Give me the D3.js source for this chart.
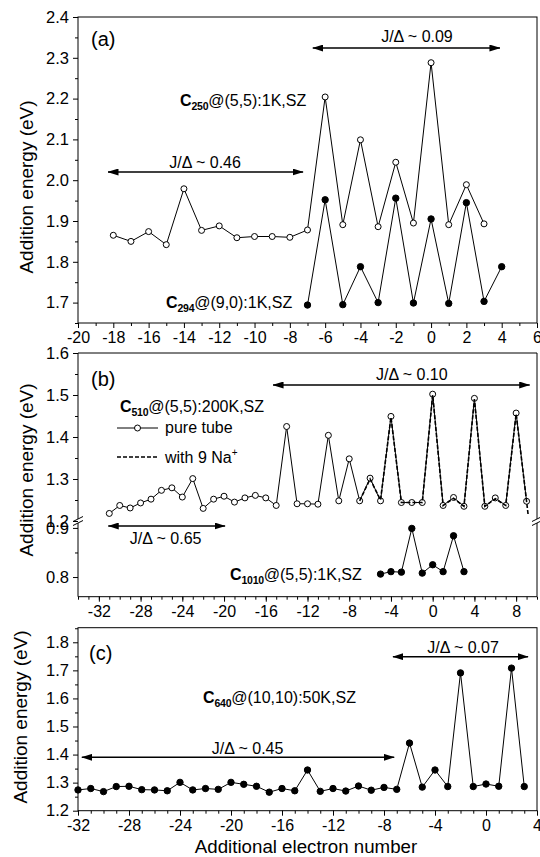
<!DOCTYPE html>
<html>
<head>
<meta charset="utf-8">
<script src="https://cdn.jsdelivr.net/npm/d3@7"></script>
<style>
  body { margin: 0; background: #fff; }
  text { font-family: "Liberation Sans", Arial, Helvetica, sans-serif; fill: #000; }
</style>
</head>
<body>
<script>
// ---- data (electron number, addition energy in eV) ----
// panel (a)
var c250 = [[-18,1.865],[-17,1.850],[-16,1.874],[-15,1.842],[-14,1.979],[-13,1.877],[-12,1.888],
  [-11,1.859],[-10,1.862],[-9,1.862],[-8,1.860],[-7,1.878],[-6,2.204],[-5,1.891],[-4,2.099],
  [-3,1.886],[-2,2.044],[-1,1.895],[0,2.288],[1,1.891],[2,1.989],[3,1.893]];
var c294 = [[-7,1.694],[-6,1.952],[-5,1.695],[-4,1.788],[-3,1.700],[-2,1.956],[-1,1.699],
  [0,1.905],[1,1.698],[2,1.945],[3,1.703],[4,1.788]];

// panel (b)
var c510 = [[-31,1.218],[-30,1.237],[-29,1.231],[-28,1.243],[-27,1.252],[-26,1.273],[-25,1.279],
  [-24,1.257],[-23,1.301],[-22,1.230],[-21,1.252],[-20,1.259],[-19,1.245],[-18,1.255],[-17,1.261],
  [-16,1.255],[-15,1.237],[-14,1.425],[-13,1.241],[-12,1.241],[-11,1.240],[-10,1.404],[-9,1.248],
  [-8,1.348],[-7,1.248],[-6,1.302],[-5,1.248],[-4,1.449],[-3,1.244],[-2,1.244],[-1,1.244],
  [0,1.502],[1,1.237],[2,1.256],[3,1.235],[4,1.492],[5,1.235],[6,1.255],[7,1.237],[8,1.457],[9,1.247]];
var c510Na = [[-7,1.248],[-6,1.300],[-5,1.250],[-4,1.447],[-3,1.244],[-2,1.244],[-1,1.244],
  [0,1.500],[1,1.237],[2,1.254],[3,1.235],[4,1.490],[5,1.235],[6,1.253],[7,1.237],[8,1.455],
  [9,1.247],[9.15,1.215]];
var c1010 = [[-5,0.806],[-4,0.811],[-3,0.810],[-2,0.899],[-1,0.808],[0,0.825],[1,0.811],
  [2,0.884],[3,0.811]];

// panel (c)
var c640 = [[-32,1.274],[-31,1.279],[-30,1.268],[-29,1.286],[-28,1.287],[-27,1.275],[-26,1.274],
  [-25,1.271],[-24,1.301],[-23,1.274],[-22,1.279],[-21,1.276],[-20,1.301],[-19,1.294],[-18,1.287],
  [-17,1.266],[-16,1.279],[-15,1.271],[-14,1.345],[-13,1.269],[-12,1.279],[-11,1.270],[-10,1.288],
  [-9,1.273],[-8,1.283],[-7,1.276],[-6,1.441],[-5,1.284],[-4,1.345],[-3,1.286],[-2,1.691],
  [-1,1.286],[0,1.295],[1,1.287],[2,1.708],[3,1.286]];

// tick labels
var aXTicks = [-20,-18,-16,-14,-12,-10,-8,-6,-4,-2,0,2,4,6];
var aYTicks = [1.7,1.8,1.9,2.0,2.1,2.2,2.3,2.4];
var bXTicks = [-32,-28,-24,-20,-16,-12,-8,-4,0,4,8];
var bYTicksUp = [1.2,1.3,1.4,1.5,1.6];
var bYTicksLow = [0.8,0.9];
var cXTicks = [-32,-28,-24,-20,-16,-12,-8,-4,0,4];
var cYTicks = [1.2,1.3,1.4,1.5,1.6,1.7,1.8];

var left = 78, right = 537;
var fmt1 = d3.format(".1f");

var svg = d3.select("body").append("svg")
    .attr("width", 540)
    .attr("height", 857);

// arrow head
svg.append("defs").append("marker")
    .attr("id", "head")
    .attr("markerUnits", "userSpaceOnUse")
    .attr("markerWidth", 11).attr("markerHeight", 7)
    .attr("refX", 10.5).attr("refY", 3.5)
    .attr("orient", "auto-start-reverse")
  .append("path")
    .attr("d", "M0,0L11,3.5L0,7Z")
    .attr("fill", "#000");

function styleAxis(g, size) {
  g.selectAll("text").attr("font-size", size)
    .attr("font-family", "'Liberation Sans', Arial, sans-serif");
  g.selectAll("line").attr("stroke", "#000");
  g.select(".domain").remove();
}

function xAxis(x, bottom, major, minor) {
  svg.append("g").attr("transform", "translate(0," + bottom + ")")
      .call(d3.axisBottom(x).tickValues(minor).tickSize(3).tickFormat(""))
      .call(styleAxis, 16);
  svg.append("g").attr("transform", "translate(0," + bottom + ")")
      .call(d3.axisBottom(x).tickValues(major).tickSize(5).tickPadding(4).tickFormat(String))
      .call(styleAxis, 16);
}

function yAxis(y, major, minor) {
  svg.append("g").attr("transform", "translate(" + left + ",0)")
      .call(d3.axisLeft(y).tickValues(minor).tickSize(3).tickFormat(""))
      .call(styleAxis, 16);
  svg.append("g").attr("transform", "translate(" + left + ",0)")
      .call(d3.axisLeft(y).tickValues(major).tickSize(5).tickPadding(4).tickFormat(fmt1))
      .call(styleAxis, 16.5);
}

function frame(top, bottom) {
  svg.append("rect")
      .attr("x", left).attr("y", top)
      .attr("width", right - left).attr("height", bottom - top)
      .attr("fill", "none").attr("stroke", "#000");
}

function series(x, y, data, filled, dash) {
  var line = d3.line().x(function(d) { return x(d[0]); }).y(function(d) { return y(d[1]); });
  svg.append("path").datum(data)
      .attr("d", line)
      .attr("fill", "none")
      .attr("stroke", "#000")
      .attr("stroke-width", dash ? 1.6 : 1)
      .attr("stroke-dasharray", dash ? "4,2" : null);
  if (filled === null) return;
  svg.append("g").selectAll("circle")
      .data(data)
    .enter().append("circle")
      .attr("cx", function(d) { return x(d[0]); })
      .attr("cy", function(d) { return y(d[1]); })
      .attr("r", filled ? 3.2 : 3)
      .attr("fill", filled ? "#000" : "#fff")
      .attr("stroke", "#000")
      .attr("stroke-width", 1);
}

function arrow(x1, x2, yp) {
  svg.append("line")
      .attr("x1", x1).attr("x2", x2).attr("y1", yp).attr("y2", yp)
      .attr("stroke", "#000").attr("stroke-width", 1.5)
      .attr("marker-start", "url(#head)")
      .attr("marker-end", "url(#head)");
}

function label(x, y, s, size, anchor) {
  return svg.append("text").attr("x", x).attr("y", y)
      .attr("font-size", size)
      .attr("text-anchor", anchor || "start")
      .text(s);
}

// "C" + subscript + rest
function tubeLabel(x, y, sub, rest) {
  var t = svg.append("text").attr("x", x).attr("y", y).attr("font-size", 16);
  t.append("tspan").attr("font-weight", "bold").text("C");
  t.append("tspan").attr("font-weight", "bold").attr("font-size", 10.5)
      .attr("dy", 4).attr("letter-spacing", -0.3).text(sub);
  t.append("tspan").attr("dy", -4).text(rest);
}

function yTitle(x, cy) {
  svg.append("text")
      .attr("transform", "translate(" + x + "," + cy + ") rotate(-90)")
      .attr("text-anchor", "middle")
      .attr("font-size", 19)
      .text("Addition energy (eV)");
}

// ================= panel (a) =================
var aTop = 17, aBottom = 323;
var xa = d3.scaleLinear().domain([-20, 6]).range([left, right]);
var ya = d3.scaleLinear().domain([1.65, 2.4]).range([aBottom, aTop]);

frame(aTop, aBottom);
xAxis(xa, aBottom, aXTicks, d3.range(-19, 6, 2));
yAxis(ya, aYTicks, d3.range(1.65, 2.4, 0.1));
series(xa, ya, c250, false);
series(xa, ya, c294, true);

label(91, 46, "(a)", 20);
arrow(xa(-6.7), xa(3.9), 48);
label(xa(-0.8), 42, "J/\u0394 ~ 0.09", 16, "middle");
arrow(xa(-18.3), xa(-7.25), 172);
label(xa(-12.8), 168, "J/\u0394 ~ 0.46", 16, "middle");
tubeLabel(180, 106, "250", "@(5,5):1K,SZ");
tubeLabel(166, 308, "294", "@(9,0):1K,SZ");
yTitle(33, 187);

// ================= panel (b), broken y axis =================
var bTop = 353, bBottom = 596.7, brk1 = 519, brk2 = 523;
var xb = d3.scaleLinear().domain([-34, 10]).range([left, right]);
var ybUp = d3.scaleLinear().domain([1.2, 1.6]).range([521, bTop]);
var ybLow = d3.scaleLinear().domain([0.76, 0.91]).range([bBottom, brk2]);

// frame with gaps at the break
svg.append("path")
    .attr("d", "M" + left + "," + brk1 + "V" + bTop + "H" + right + "V" + brk1 +
               "M" + left + "," + brk2 + "V" + bBottom + "H" + right + "V" + brk2)
    .attr("fill", "none").attr("stroke", "#000");
[left, right].forEach(function(px) {
  [brk1, brk2].forEach(function(py) {
    svg.append("line")
        .attr("x1", px - 5).attr("y1", py + 2.5)
        .attr("x2", px + 5).attr("y2", py - 2.5)
        .attr("stroke", "#000").attr("stroke-width", 1);
  });
});

xAxis(xb, bBottom, bXTicks, d3.range(-34, 11, 1));
yAxis(ybUp, bYTicksUp, [1.25, 1.35, 1.45, 1.55]);
yAxis(ybLow, bYTicksLow, [0.85]);

series(xb, ybUp, c510, false);
series(xb, ybUp, c510Na, null, true);
series(xb, ybLow, c1010, true);

label(91, 386, "(b)", 20);
arrow(xb(-15.3), xb(9.3), 385);
label(xb(-2), 380, "J/\u0394 ~ 0.10", 16, "middle");
arrow(xb(-31.1), xb(-19.9), 526);
label(xb(-25.6), 544, "J/\u0394 ~ 0.65", 16, "middle");
tubeLabel(120, 412, "510", "@(5,5):200K,SZ");
tubeLabel(230, 580, "1010", "@(5,5):1K,SZ");

// legend
svg.append("line").attr("x1", 117).attr("x2", 158).attr("y1", 428).attr("y2", 428)
    .attr("stroke", "#000");
svg.append("circle").attr("cx", 137.5).attr("cy", 428).attr("r", 3)
    .attr("fill", "#fff").attr("stroke", "#000");
label(165, 433, "pure tube", 16);
svg.append("line").attr("x1", 117).attr("x2", 158).attr("y1", 457).attr("y2", 457)
    .attr("stroke", "#000").attr("stroke-width", 1.6).attr("stroke-dasharray", "4,2");
var na = label(165, 463, "with 9 Na", 16);
na.append("tspan").attr("font-size", 10).attr("dy", -7).text("+");
yTitle(33, 470);

// ================= panel (c) =================
var cTop = 627.7, cBottom = 810.7;
var xc = d3.scaleLinear().domain([-32, 4]).range([left, right]);
var yc = d3.scaleLinear().domain([1.2, 1.852]).range([cBottom, cTop]);

frame(cTop, cBottom);
xAxis(xc, cBottom, cXTicks, d3.range(-32, 5, 1));
yAxis(yc, cYTicks, [1.25, 1.35, 1.45, 1.55, 1.65, 1.75, 1.85]);
series(xc, yc, c640, true);

label(89, 660, "(c)", 20);
arrow(xc(-7.3), xc(3.3), 656.7);
label(xc(-1.8), 653, "J/\u0394 ~ 0.07", 16, "middle");
arrow(xc(-31.7), xc(-7.2), 757.3);
label(xc(-18.7), 754, "J/\u0394 ~ 0.45", 16, "middle");
tubeLabel(203, 703, "640", "@(10,10):50K,SZ");
yTitle(27, 717);

label(306, 853, "Additional electron number", 18.7, "middle");
</script>
</body>
</html>
